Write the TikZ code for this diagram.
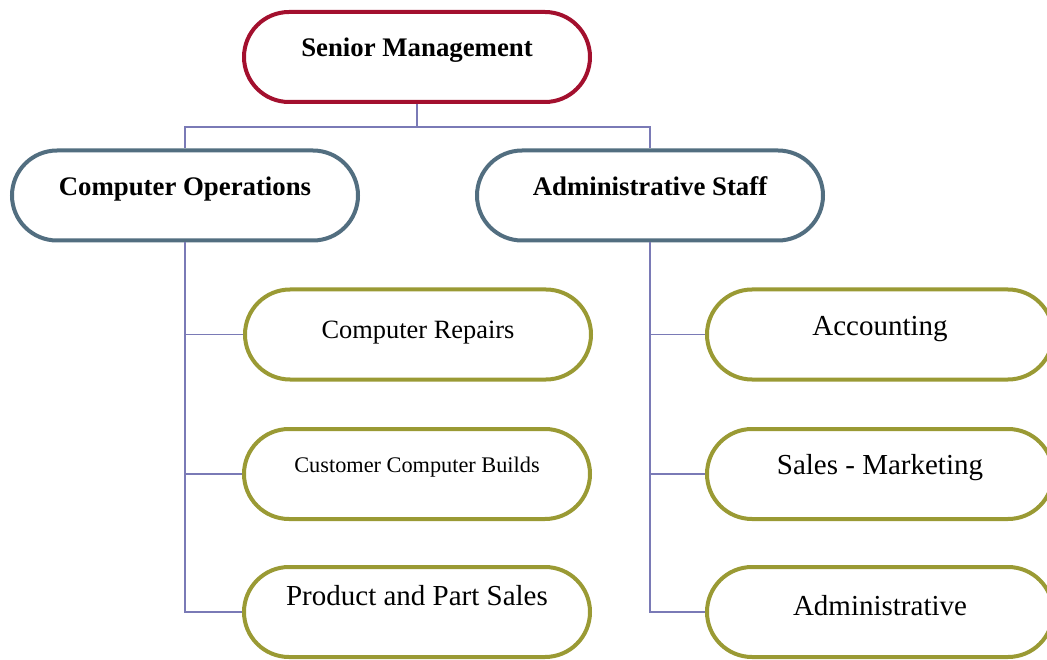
\documentclass[tikz,border=0pt]{standalone}
\usepackage{fontspec}
\setmainfont{Liberation Serif}

\definecolor{topred}{RGB}{163,16,46}
\definecolor{midslate}{RGB}{82,110,128}
\definecolor{leafolive}{RGB}{154,154,52}
\definecolor{linkblue}{RGB}{122,122,182}

\begin{document}
\begin{tikzpicture}[
  x=1pt, y=-1pt,
  box/.style={
    rectangle, rounded corners=45pt, draw, line width=4pt, fill=white,
    minimum width=346pt, minimum height=90pt, inner sep=0pt,
    text height=20pt, text depth=20pt
  },
  boss/.style={box, draw=topred, font=\fontsize{26.8}{30}\selectfont\bfseries},
  dept/.style={box, draw=midslate, font=\fontsize{26.8}{30}\selectfont\bfseries},
  unit/.style={box, draw=leafolive, font=\fontsize{29}{33}\selectfont},
  link/.style={draw=linkblue, line width=1.2pt}
  ]
  \useasboundingbox (0,0) rectangle (1047,660);
  \clip (0,0) rectangle (1047,660);

  % top and second level
  \node[boss] (senior) at (417,57) {Senior Management};
  \node[dept, text depth=19pt] (ops) at (185,195.5) {Computer Operations};
  \node[dept] (staff) at (650,195.5) {Administrative Staff};

  % units under computer operations
  \node[unit, text depth=11pt, font=\fontsize{26.4}{30}\selectfont] (repair) at (418,334.5) {Computer Repairs};
  \node[unit, text depth=24pt, font=\fontsize{22.3}{26}\selectfont] (builds) at (417,474) {Customer Computer Builds};
  \node[unit, text depth=34pt] (parts) at (417,612) {Product and Part Sales};

  % units under administrative staff
  \node[unit, text depth=18pt] (acct) at (880,334.5) {Accounting};
  \node[unit] (sales) at (880,474) {Sales - Marketing};
  \node[unit, text depth=14pt] (admin) at (880,612) {Administrative};

  % connectors
  \draw[link] (senior.south) -- ++(0,23) -| (ops.north);
  \draw[link] (senior.south) -- ++(0,23) -| (staff.north);
  \draw[link] (ops.south) |- (parts.west);
  \draw[link] (ops.south |- repair.west) -- (repair.west);
  \draw[link] (ops.south |- builds.west) -- (builds.west);
  \draw[link] (staff.south) |- (admin.west);
  \draw[link] (staff.south |- acct.west) -- (acct.west);
  \draw[link] (staff.south |- sales.west) -- (sales.west);
\end{tikzpicture}
\end{document}
